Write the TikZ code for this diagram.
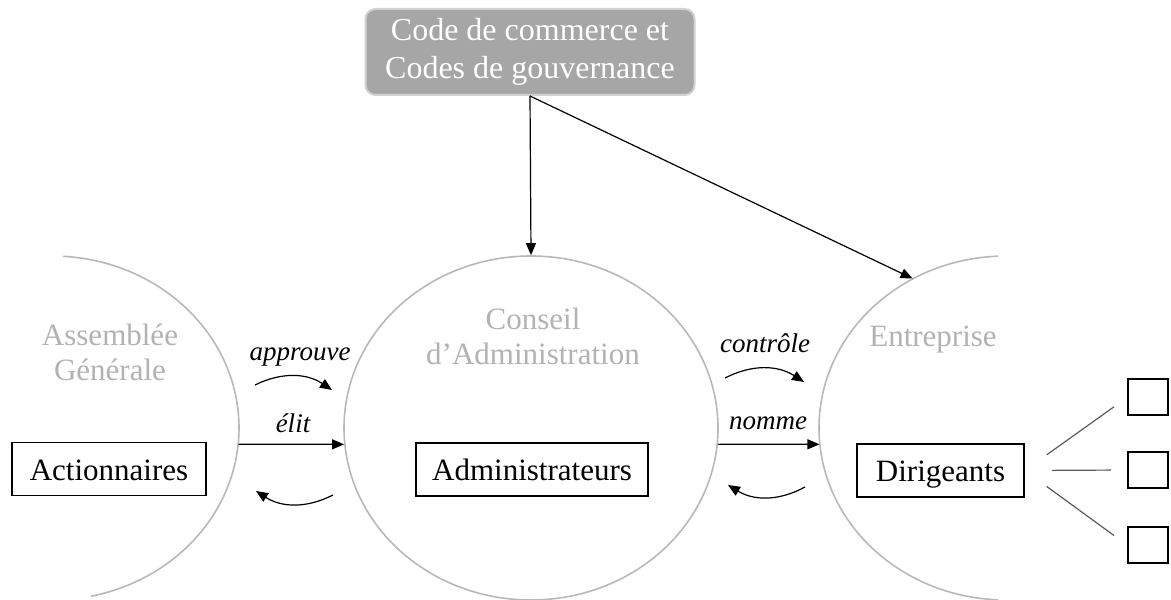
\documentclass[tikz,border=0pt]{standalone}
\usepackage{fontspec}
\setmainfont{Liberation Serif}
\usetikzlibrary{shapes.geometric,arrows.meta}

\begin{document}
\begin{tikzpicture}[x=0.5pt,y=0.5pt,
    flow/.style={-{Triangle[length=6pt,width=5pt]}, line width=0.6pt},
    circ/.style={draw=black!28, line width=0.8pt},
    ring/.style={ellipse, minimum width=187pt, minimum height=172pt, inner sep=0pt},
    code/.style={rounded corners=5pt, fill=black!35, draw=black!18, line width=1pt, text=white, align=center,
        minimum width=164.5pt, minimum height=43pt, font=\fontsize{16pt}{19pt}\selectfont},
    actor/.style={draw, line width=0.8pt, minimum height=26.5pt, text height=13.5pt, text depth=2pt,
        font=\fontsize{15.5pt}{19pt}\selectfont},
    grp/.style={text=black!30, align=center, font=\fontsize{15.5pt}{17.5pt}\selectfont},
    act/.style={anchor=base, font=\fontsize{13.5pt}{16pt}\selectfont\itshape},
    sub/.style={draw, line width=1pt, minimum width=20pt, minimum height=18pt, inner sep=0pt},
    link/.style={draw=black!65, line width=0.6pt, shorten <=13.5pt, shorten >=8pt}]
  \useasboundingbox (0,0) rectangle (1171,599);

  % les trois cercles
  \node[ring] (ag) at (52,171) {};
  \node[ring, circ, draw] (ca) at (531,171) {};
  \node[ring] (ent) at (1006,171) {};
  \draw[circ] (ag.center) ++(86.6:93.5pt and 86pt) arc[start angle=86.6, end angle=-78, x radius=93.5pt, y radius=86pt];
  \draw[circ] (ent.center) ++(92.5:93.5pt and 86pt) arc[start angle=92.5, end angle=267.5, x radius=93.5pt, y radius=86pt];

  \node[grp] (agl) at (110,247) {Assemblée\\Générale};
  \node[grp] (cal) at (533,263) {Conseil\\d’Administration};
  \node[grp, anchor=base] (entl) at (933,252) {Entreprise};

  \node[code] (code) at (530,547) {Code de commerce et\\Codes de gouvernance};

  \node[actor, minimum width=97pt] (act) at (109,130) {Actionnaires};
  \node[actor, minimum width=116pt] (adm) at (532,129.5) {Administrateurs};
  \node[actor, minimum width=83.5pt] (dir) at (940.5,128.5) {Dirigeants};

  \draw[flow] (code.south) -- (ca.north);
  \draw[flow] (code.south) -- (ent.122);
  \draw[flow] (ag.-5) -- (ca.185);
  \draw[flow] (ca.-5) -- (ent.185);

  \node[act] (appr) at (300,238) {approuve};
  \node[act] (elit) at (293,166) {élit};
  \node[act] (ctrl) at (765,246) {contrôle};
  \node[act] (nom) at (768,169) {nomme};

  % fleches courbes
  \coordinate (a1) at (255,214); \coordinate (a2) at (332,209);
  \coordinate (a3) at (333,104); \coordinate (a4) at (256,108);
  \coordinate (c1) at (725,221); \coordinate (c2) at (804,217);
  \coordinate (c3) at (805,112); \coordinate (c4) at (728,114);
  \draw[flow] (a1) to[bend left=30] (a2);
  \draw[flow] (a3) to[bend left=30] (a4);
  \draw[flow] (c1) to[bend left=30] (c2);
  \draw[flow] (c3) to[bend left=30] (c4);

  \node[sub] (s1) at (1148,201.5) {};
  \node[sub] (s2) at (1148,129) {};
  \node[sub] (s3) at (1148,54) {};
  \draw[link] (dir.east) -- (s1.west);
  \draw[link] (dir.east) -- (s2.west);
  \draw[link] (dir.east) -- (s3.west);
\end{tikzpicture}
\end{document}
